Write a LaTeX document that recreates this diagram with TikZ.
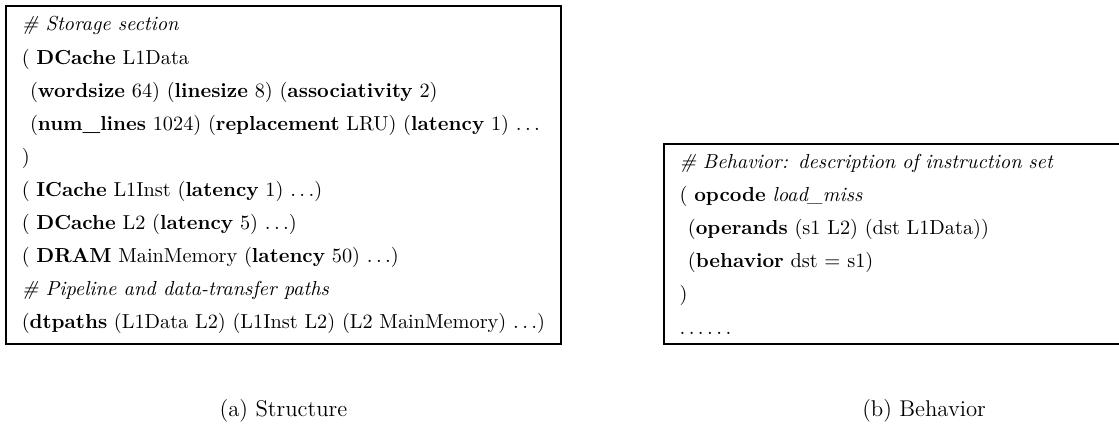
\documentclass[tikz,border=0pt]{standalone}
\usetikzlibrary{positioning}
\newcommand{\ind}{\hspace*{4pt}}
\newcommand{\dts}{$\ldots$}
\begin{document}
\begin{tikzpicture}[codebox/.style={draw, line width=0.9pt, align=left, inner xsep=7.5pt, inner ysep=5pt, font={\fontsize{9.8}{16}\selectfont}},
  capnode/.style={font={\fontsize{11}{13}\selectfont}}]
  \useasboundingbox (0,0) rectangle (19.0,-7.42);
  \clip (0,0) rectangle (19.0,-7.42);
  \coordinate (bleft) at (11.26,0);
  % (a) structure
  \node[codebox, anchor=north west] (struct) at (0.09,-0.09) {%
    \textit{\# Storage section}\\
    ( \textbf{DCache} L1Data\\
    \ind(\textbf{wordsize} 64) (\textbf{linesize} 8) (\textbf{associativity} 2)\\
    \ind(\textbf{num\_lines} 1024) (\textbf{replacement} LRU) (\textbf{latency} 1) \dts\\
    )\\
    ( \textbf{ICache} L1Inst (\textbf{latency} 1) \dts)\\
    ( \textbf{DCache} L2 (\textbf{latency} 5) \dts)\\
    ( \textbf{DRAM} MainMemory (\textbf{latency} 50) \dts)\\
    \textit{\# Pipeline and data-transfer paths}\\
    (\textbf{dtpaths} (L1Data L2) (L1Inst L2) (L2 MainMemory) \dts)};
  % (b) behavior
  \node[codebox, anchor=south west, text width=8.3cm] (behav) at (bleft |- struct.south) {%
    \textit{\# Behavior: description of instruction set}\\
    ( \textbf{opcode} \textit{load\_miss}\\
    \ind(\textbf{operands} (s1 L2) (dst L1Data))\\
    \ind(\textbf{behavior} dst $=$ s1)\\
    )\\
    $\ldots\ldots$};
  % captions
  \node[capnode, below=0.8cm of struct] (capa) {(a) Structure};
  \node[capnode, below=0.8cm of behav] (capb) {(b) Behavior};
\end{tikzpicture}
\end{document}
